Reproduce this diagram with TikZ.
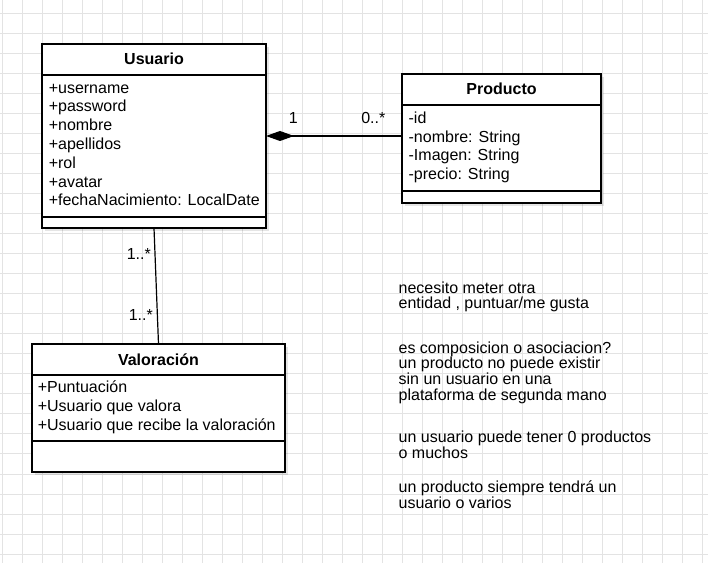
\documentclass[tikz,border=0pt]{standalone}
\usepackage{fontspec}
\setmainfont{Liberation Sans}
\usetikzlibrary{arrows.meta,shadows}
\begin{document}
\begin{tikzpicture}[x=0.75pt,y=-0.75pt,
  gridline/.style={draw=black!11,line width=0.75pt},
  boxline/.style={draw=black,line width=0.9pt},
  classbox/.style={boxline,fill=white,inner sep=0pt,outer sep=0pt,
    drop shadow={shadow xshift=2.5pt,shadow yshift=-2.5pt,fill=black,opacity=0.10}},
  ctitle/.style={anchor=base,inner sep=0pt,font=\fontsize{12}{14}\selectfont\bfseries},
  attr/.style={anchor=base west,inner sep=0pt,font=\fontsize{12}{14}\selectfont},
  elabel/.style={anchor=base west,inner sep=0pt,font=\fontsize{12}{14}\selectfont},
  note/.style={anchor=base west,inner sep=0pt,font=\fontsize{12}{14}\selectfont},
  assoc/.style={draw=black,line width=0.9pt}]
\useasboundingbox (0,0) rectangle (708,563);
\fill[white] (0,0) rectangle (708,563);
% grid
\foreach \gx in {2,22,...,702} \draw[gridline] (\gx,0) -- (\gx,563);
\foreach \gy in {14,34,...,554} \draw[gridline] (0,\gy) -- (708,\gy);

% Usuario
\node[classbox,minimum width=168pt,minimum height=138pt] (usuario) at (154,136) {};
\draw[boxline] (usuario.west |- 0,75) -- (usuario.east |- 0,75);
\draw[boxline] (usuario.west |- 0,217) -- (usuario.east |- 0,217);
\node[ctitle] (usuarioT) at (154,65) {Usuario};
\foreach \t [count=\i from 0] in {+username,+password,+nombre,+apellidos,+rol,+avatar,+fechaNacimiento: LocalDate}
  \node[attr] (ua\i) at (48.5,93.2+18.8*\i) {\t};

% Producto
\node[classbox,minimum width=149.25pt,minimum height=96.75pt] (producto) at (501.5,138.5) {};
\draw[boxline] (producto.west |- 0,105) -- (producto.east |- 0,105);
\draw[boxline] (producto.west |- 0,191) -- (producto.east |- 0,191);
\node[ctitle] (productoT) at (501.5,95) {Producto};
\foreach \t [count=\i from 0] in {-id,-nombre: String,-Imagen: String,-precio: String}
  \node[attr] (pa\i) at (408.4,123.3+18.8*\i) {\t};

% Valoracion
\node[classbox,minimum width=189.75pt,minimum height=96pt] (valoracion) at (158.5,408) {};
\draw[boxline] (valoracion.west |- 0,375) -- (valoracion.east |- 0,375);
\draw[boxline] (valoracion.west |- 0,441) -- (valoracion.east |- 0,441);
\node[ctitle] (valoracionT) at (158.5,365.3) {Valoración};
\foreach \t [count=\i from 0] in {+Puntuación,+Usuario que valora,+Usuario que recibe la valoración}
  \node[attr] (va\i) at (37.5,392.8+18.8*\i) {\t};

% connectors
\draw[assoc,{Diamond[length=21pt,width=7.5pt]}-] (usuario.east) -- (producto.west |- usuario.east);
\draw[assoc] (usuario.south) -- (valoracion.north);

% connector labels
\node[elabel,anchor=base] (lone) at (293.3,124) {1};
\node[elabel] (lmany) at (361,124) {0..*};
\node[elabel] (ltop) at (126.5,260) {1..*};
\node[elabel] (lbot) at (128.5,320.7) {1..*};

% notes
\node[note] (n1) at (398.4,293.5) {necesito meter otra};
\node[note] (n2) at (398.4,309) {entidad , puntuar/me gusta};
\node[note] (n3) at (398.4,353.3) {es composicion o asociacion?};
\node[note] (n4) at (398.4,368.9) {un producto no puede existir};
\node[note] (n5) at (398.4,384.5) {sin un usuario en una};
\node[note] (n6) at (398.4,400.1) {plataforma de segunda mano};
\node[note] (n7) at (398.4,442.8) {un usuario puede tener 0 productos};
\node[note] (n8) at (398.4,458.3) {o muchos};
\node[note] (n9) at (398.4,493) {un producto siempre tendrá un};
\node[note] (n10) at (398.4,508.5) {usuario o varios};
\end{tikzpicture}
\end{document}
